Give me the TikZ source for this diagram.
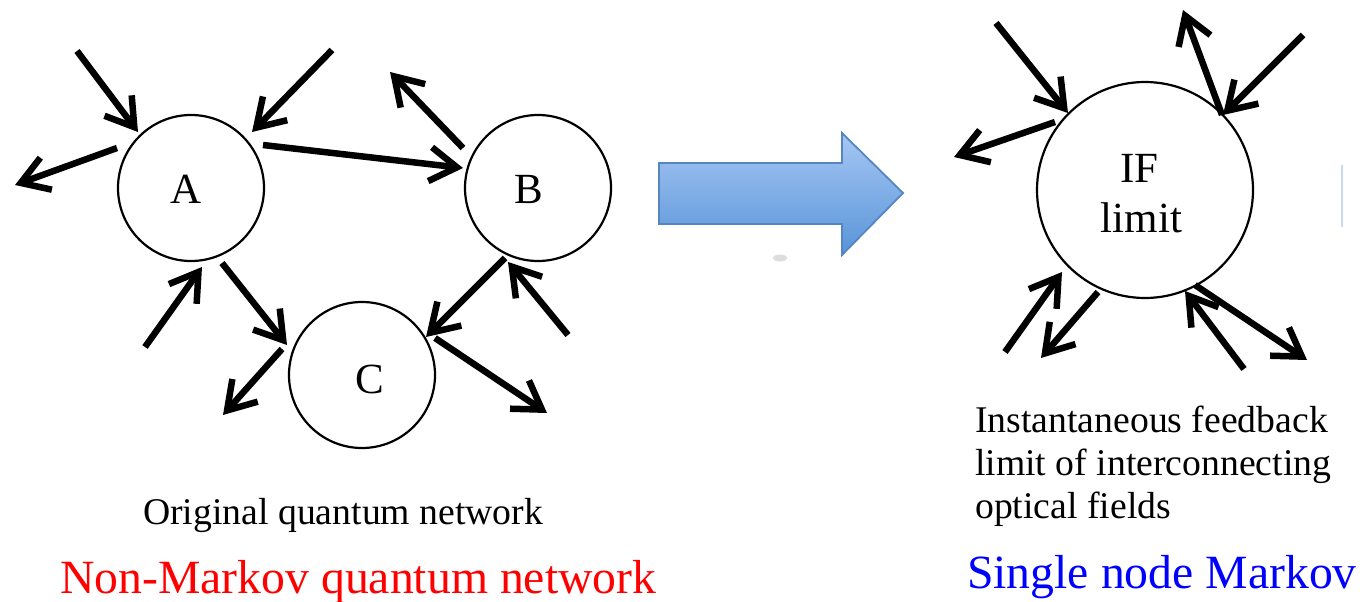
\documentclass[tikz,border=0pt]{standalone}
\usepackage{fontspec}
\setmainfont{Liberation Serif}
\usetikzlibrary{arrows.meta}
\definecolor{arrowtop}{RGB}{166,199,244}
\definecolor{arrowbot}{RGB}{88,148,216}
\definecolor{arrowedge}{RGB}{86,133,196}
\definecolor{hairline}{RGB}{198,217,240}
\begin{document}
\begin{tikzpicture}[x=1pt,y=-1pt,
  qnode/.style={circle, draw, line width=2.2pt, minimum size=146pt, inner sep=0pt},
  ifnode/.style={circle, draw, line width=2.2pt, minimum size=216pt, inner sep=0pt},
  field/.style={line width=6.5pt, -{Straight Barb[length=27pt,width=34pt]}},
  lbl/.style={font=\fontsize{43}{50}\selectfont},
  caption/.style={font=\fontsize{37.7}{43}\selectfont, anchor=base west, inner sep=0pt},
  title/.style={font=\fontsize{47.7}{55}\selectfont, anchor=base west, inner sep=0pt}]
\useasboundingbox (0,0) rectangle (1362,602);

% ---- original network: three cavities A, B, C ----
\node[qnode, label={[lbl, xshift=-5pt, yshift=-1.5pt]center:A}] (A) at (191,188) {};
\node[qnode, label={[lbl, xshift=-9pt, yshift=-1pt]center:B}] (B) at (538,188) {};
\node[qnode, label={[lbl, xshift=8pt, yshift=-4.5pt]center:C}] (C) at (362,375) {};

% free ends of the external fields
\coordinate (a1) at (77,51);
\coordinate (a2) at (332,50);
\coordinate (a3) at (15,185);
\coordinate (a4) at (145,347);
\coordinate (b1) at (390,72);
\coordinate (b2) at (568,335);
\coordinate (c1) at (223,415);
\coordinate (c2) at (547,413);

\draw[field] (a1) -- ([shift={(-53,-56)}]A.center);
\draw[field] (a2) -- ([shift={(61,-56)}]A.center);
\draw[field] ([shift={(-74,-40)}]A.center) -- (a3);
\draw[field] (a4) -- ([shift={(11,79)}]A.center);
\draw[field] ([shift={(72,-43)}]A.center) -- ([shift={(-75,-20)}]B.center);
\draw[field] ([shift={(-75,-40)}]B.center) -- (b1);
\draw[field] ([shift={(31,75)}]A.center) -- ([shift={(-75,-30)}]C.center);
\draw[field] ([shift={(-80,-26)}]C.center) -- (c1);
\draw[field] ([shift={(-33,70)}]B.center) -- ([shift={(64,-38)}]C.center);
\draw[field] (b2) -- ([shift={(-30,74)}]B.center);
\draw[field] ([shift={(73,-37)}]C.center) -- (c2);

% ---- block arrow ----
\shade[top color=arrowtop, bottom color=arrowbot, draw=arrowedge, line width=1.8pt, line join=miter]
  (659,163) -- (842,163) -- (842,133) -- (903,193) -- (842,255) -- (842,224) -- (659,224) -- cycle;
\fill[gray!45, opacity=0.6] (780,258) ellipse [x radius=7pt, y radius=3.5pt];

% ---- reduced single node ----
\node[ifnode] (IF) at (1145,190) {};
\node[lbl, anchor=base, inner sep=0pt] (ift) at (1139.5,182) {IF};
\node[lbl, anchor=base, inner sep=0pt] (ifb) at (1141.5,232) {limit};

\coordinate (f1) at (996,23);
\coordinate (f2) at (1183,10);
\coordinate (f3) at (1303,35);
\coordinate (f4) at (954,157);
\coordinate (f5) at (1005,352);
\coordinate (f6) at (1041,358);
\coordinate (f7) at (1244,369);
\coordinate (f8) at (1307,360);

\draw[field] (f1) -- ([shift={(-77,-77)}]IF.center);
\draw[field] ([shift={(77,-75)}]IF.center) -- (f2);
\draw[field] (f3) -- ([shift={(78,-75)}]IF.center);
\draw[field] ([shift={(-90,-68)}]IF.center) -- (f4);
\draw[field] (f5) -- ([shift={(-83,82)}]IF.center);
\draw[field] ([shift={(-47,102)}]IF.center) -- (f6);
\draw[field] (f7) -- ([shift={(40,101)}]IF.center);
\draw[field] ([shift={(50,95)}]IF.center) -- (f8);

\draw[hairline, line width=1.5pt] (1342,165) -- (1342,227);

% ---- captions ----
\node[caption] (cap1) at (143,524) {Original quantum network};
\node[title, text=red] (tit1) at (60,593) {Non-Markov quantum network};
\node[caption] (cap2) at (975,432) {Instantaneous feedback};
\node[caption] (cap3) at (975,475) {limit of interconnecting};
\node[caption] (cap4) at (975,518) {optical fields};
\node[title, text=blue] (tit2) at (967,588) {Single node Markov};
\end{tikzpicture}
\end{document}
